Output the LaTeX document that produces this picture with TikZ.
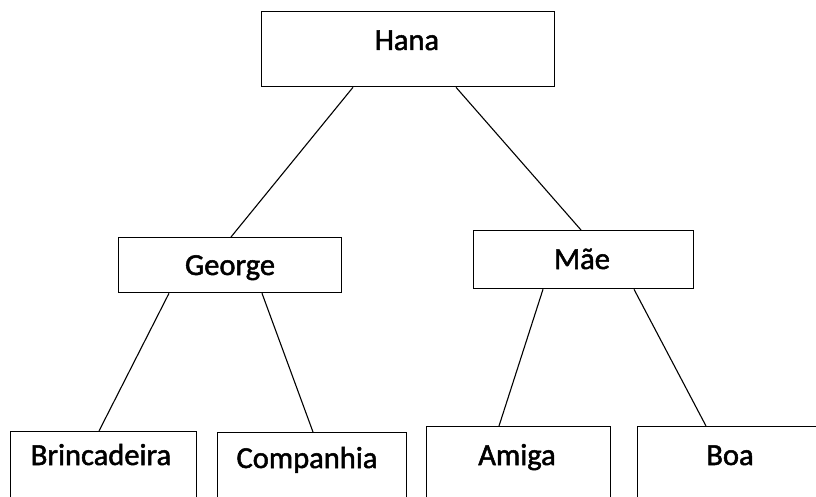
\documentclass[tikz,border=0pt]{standalone}
\usepackage{fontspec}
\setmainfont{Carlito}
\usetikzlibrary{calc}
% slightly heavier text: fill and stroke the glyphs
\newcommand{\heavytext}[1]{\special{pdf:literal direct 2 Tr 0.5 w}#1\special{pdf:literal direct 0 Tr}}
\begin{document}
\begin{tikzpicture}[x=1pt,y=-1pt,
  box/.style={draw=black, line width=1.3pt, rectangle, inner sep=0pt, anchor=north west},
  word/.style={anchor=base, inner sep=0pt, font=\fontsize{30.5}{36}\selectfont},
  link/.style={draw=black, line width=1.1pt}]
\useasboundingbox (0,0) rectangle (816,497);
\begin{scope}
\clip (0,0) rectangle (816,497);
% boxes
\node[box, minimum width=293, minimum height=75] (hana) at (261,11) {};
\node[box, minimum width=223, minimum height=55] (george) at (118,237) {};
\node[box, minimum width=220, minimum height=58] (mae) at (473,230) {};
\node[box, minimum width=186, minimum height=80] (brinc) at (10,431) {};
\node[box, minimum width=189, minimum height=80] (comp) at (217,432) {};
\node[box, minimum width=184, minimum height=85] (amiga) at (426,426) {};
\node[box, minimum width=190, minimum height=85] (boa) at (637,426) {};
\end{scope}
% labels
\node[word] (thana) at (407,50) {\heavytext{Hana}};
\node[word] (tgeorge) at (230,275) {\heavytext{George}};
\node[word] (tmae) at (582,269) {\heavytext{Mãe}};
\node[word] (tbrinc) at (101,465) {\heavytext{Brincadeira}};
\node[word] (tcomp) at (307,468) {\heavytext{Companhia}};
\node[word] (tamiga) at (517,465) {\heavytext{Amiga}};
\node[word] (tboa) at (730,465) {\heavytext{Boa}};
% connectors
\draw[link] ($(hana.south west)+(92,0)$) -- ($(george.north west)+(113,0)$);
\draw[link] ($(hana.south west)+(195,0)$) -- ($(mae.north west)+(108,0)$);
\draw[link] ($(george.south west)+(51,0)$) -- ($(brinc.north west)+(89,0)$);
\draw[link] ($(george.south west)+(144,0)$) -- ($(comp.north west)+(96,0)$);
\draw[link] ($(mae.south west)+(70,0)$) -- ($(amiga.north west)+(73,0)$);
\draw[link] ($(mae.south west)+(161,0)$) -- ($(boa.north west)+(69,0)$);
\end{tikzpicture}
\end{document}
